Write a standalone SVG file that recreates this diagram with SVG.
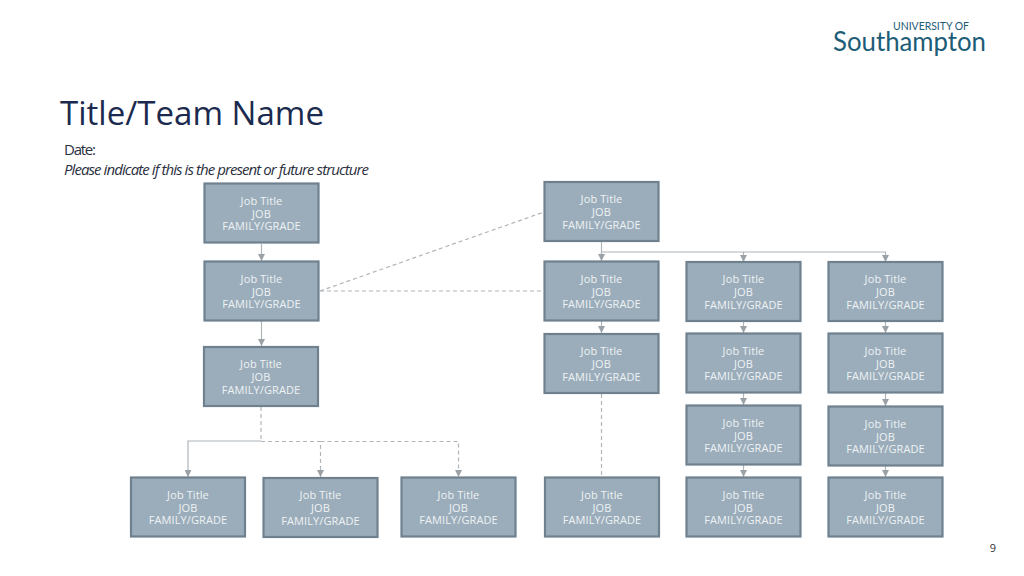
<svg xmlns="http://www.w3.org/2000/svg" width="1024" height="576" viewBox="0 0 1024 576">
<style>
.n{fill:#9badba;stroke:#6f818f;stroke-width:2.2}
.t{font-family:"Open Sans","DejaVu Sans",sans-serif;font-size:11px;fill:#eef2f5;text-anchor:middle;letter-spacing:.1px}
.c{fill:none;stroke:#b0b6ba;stroke-width:1.2}
.d{stroke-dasharray:4 3}
</style>
<defs>
<marker id="a" markerWidth="8" markerHeight="7" refX="7" refY="3.5" orient="auto" markerUnits="userSpaceOnUse"><path d="M0 0L7 3.5L0 7z" fill="#9aa2a8"/></marker>
<g id="box"><rect class="n" x="-57" y="0" width="114" height="59"/><text class="t" y="21">Job Title</text><text class="t" y="34">JOB</text><text class="t" y="46.500">FAMILY/GRADE</text></g>
</defs>
<rect width="1024" height="576" fill="#fff"/>
<g id="logo" fill="#1d5c76">
<text x="893" y="29.500" font-family="Lato,sans-serif" font-size="10.500" textLength="76" lengthAdjust="spacingAndGlyphs">UNIVERSITY OF</text>
<text x="833" y="50.500" font-family="Lato,sans-serif" font-size="26" textLength="153" lengthAdjust="spacingAndGlyphs">Southampton</text>
</g>
<text id="title" x="60" y="125" font-family="Open Sans,sans-serif" font-size="33.500" fill="#1b2a4e" textLength="264" lengthAdjust="spacingAndGlyphs">Title/Team Name</text>
<text id="date" x="64" y="155" font-family="Open Sans,sans-serif" font-size="15" fill="#2b3040" textLength="32">Date:</text>
<text id="note" x="64" y="174.500" font-family="Open Sans,sans-serif" font-style="italic" font-size="15" fill="#2b3040" textLength="305">Please indicate if this is the present or future structure</text>
<g id="connectors">
<path class="c" d="M261.500 244V261" marker-end="url(#a)"/>
<path class="c" d="M261.500 321V346" marker-end="url(#a)"/>
<path class="c d" d="M320 291L544 212"/>
<path class="c d" d="M320 291H544"/>
<path class="c" d="M601.500 242V261" marker-end="url(#a)"/>
<path class="c" d="M601.500 252H743.500V262" marker-end="url(#a)"/>
<path class="c" d="M743.500 252H885.500V262" marker-end="url(#a)"/>
<path class="c" d="M601.500 321V333" marker-end="url(#a)"/>
<path class="c" d="M743.500 322V333" marker-end="url(#a)"/>
<path class="c" d="M885.500 322V333" marker-end="url(#a)"/>
<path class="c" d="M743.500 393V405" marker-end="url(#a)"/>
<path class="c" d="M885.500 393V406" marker-end="url(#a)"/>
<path class="c" d="M743.500 465V477" marker-end="url(#a)"/>
<path class="c" d="M885.500 466V477" marker-end="url(#a)"/>
<path class="c d" d="M601.500 394V477"/>
<path class="c d" d="M261 407V441"/>
<path class="c" d="M261 441H188V477" marker-end="url(#a)"/>
<path class="c d" d="M261 441.500H320.500V477" marker-end="url(#a)"/>
<path class="c d" d="M320.500 441.500H458.500V477" marker-end="url(#a)"/>
</g>
<g id="n1"><use href="#box" x="261.500" y="183.500"/></g>
<g id="n2"><use href="#box" x="601.500" y="182"/></g>
<g id="n3"><use href="#box" x="261.500" y="261.500"/></g>
<g id="n4"><use href="#box" x="601.500" y="261.500"/></g>
<g id="n5"><use href="#box" x="743.500" y="262"/></g>
<g id="n6"><use href="#box" x="885.500" y="262"/></g>
<g id="n7"><use href="#box" x="601.500" y="334"/></g>
<g id="n8"><use href="#box" x="743.500" y="333.500"/></g>
<g id="n9"><use href="#box" x="885.500" y="333.500"/></g>
<g id="n10"><use href="#box" x="261" y="347"/></g>
<g id="n11"><use href="#box" x="743.500" y="405.500"/></g>
<g id="n12"><use href="#box" x="885.500" y="406.500"/></g>
<g id="n13"><use href="#box" x="188" y="477.500"/></g>
<g id="n14"><use href="#box" x="320.500" y="478"/></g>
<g id="n15"><use href="#box" x="458.500" y="477.500"/></g>
<g id="n16"><use href="#box" x="602" y="477.500"/></g>
<g id="n17"><use href="#box" x="743.500" y="477.500"/></g>
<g id="n18"><use href="#box" x="885.500" y="477.500"/></g>
<text id="page" x="993" y="552" font-family="Open Sans,sans-serif" font-size="11" fill="#333" text-anchor="middle">9</text>
</svg>
